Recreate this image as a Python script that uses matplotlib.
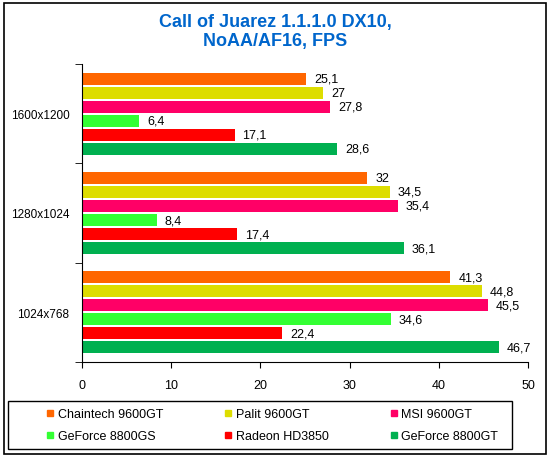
import numpy as np
import matplotlib
matplotlib.use("Agg")
import matplotlib.pyplot as plt
from matplotlib.lines import Line2D
from matplotlib.patches import Rectangle

plt.rcParams["font.family"] = ["Liberation Sans", "DejaVu Sans"]

resolutions = ["1024x768", "1280x1024", "1600x1200"]
cards = ["Chaintech 9600GT", "Palit 9600GT", "MSI 9600GT",
         "GeForce 8800GS", "Radeon HD3850", "GeForce 8800GT"]
colors = ["#FF6600", "#DDDD00", "#FF0066", "#33FF33", "#FF0000", "#00B050"]
# fps per card, ordered like resolutions
fps = [
    [41.3, 32, 25.1],
    [44.8, 34.5, 27],
    [45.5, 35.4, 27.8],
    [34.6, 8.4, 6.4],
    [22.4, 17.4, 17.1],
    [46.7, 36.1, 28.6],
]

fig = plt.figure(figsize=(5.5, 4.6), dpi=100)
ax = fig.add_axes([82 / 550, 1 - 363 / 460, 446 / 550, 298 / 460])

step = 14 / 99
h = 12 / 99
y = np.arange(len(resolutions))
for i, (name, col, vals) in enumerate(zip(cards, colors, fps)):
    pos = y + (2.5 - i) * step
    ax.barh(pos, vals, height=h, color=col)
    for p, v in zip(pos, vals):
        ax.text(v + 0.9, p, f"{v:g}".replace(".", ","), va="center", ha="left", fontsize=9)

ax.set_xlim(0, 50)
ax.set_ylim(-0.5, 2.5)
ax.set_xticks(range(0, 51, 10))
ax.set_yticks(y)
ax.set_yticklabels(resolutions)
ax.set_yticks([-0.5, 0.5, 1.5, 2.5], minor=True)
ax.tick_params(axis="y", which="major", length=0, labelsize=8.5, pad=9)
ax.tick_params(axis="y", which="minor", length=5, direction="out")
ax.tick_params(axis="x", length=4, direction="out", labelsize=9, pad=8)
for s in ["top", "right"]:
    ax.spines[s].set_visible(False)

fig.text(0.5, 1 - 32 / 460, "Call of Juarez 1.1.1.0 DX10,\nNoAA/AF16, FPS",
         ha="center", va="center", fontsize=13, fontweight="bold", color="#0066CC",
         linespacing=1.15)

handles = [Line2D([], [], marker="s", linestyle="none", color=c, markersize=5) for c in colors]
order = [0, 3, 1, 4, 2, 5]
fig.legend([handles[k] for k in order], [cards[k] for k in order], ncol=3,
           mode="expand", loc="center", bbox_to_anchor=(40 / 550, 12 / 460, 462 / 550, 44 / 460),
           frameon=False, fontsize=9, handletextpad=0.1, handlelength=1.0,
           borderaxespad=0, labelspacing=0.8, borderpad=0.3)
fig.patches.append(Rectangle((8 / 550, 10 / 460), 504 / 550, 48 / 460, transform=fig.transFigure,
                             fill=False, edgecolor="black", linewidth=1.0))

fig.patches.append(Rectangle((4 / 550, 5 / 460), 542 / 550, 451 / 460, transform=fig.transFigure,
                             fill=False, edgecolor="black", linewidth=1.2))

fig.savefig("out.png", dpi=100)
